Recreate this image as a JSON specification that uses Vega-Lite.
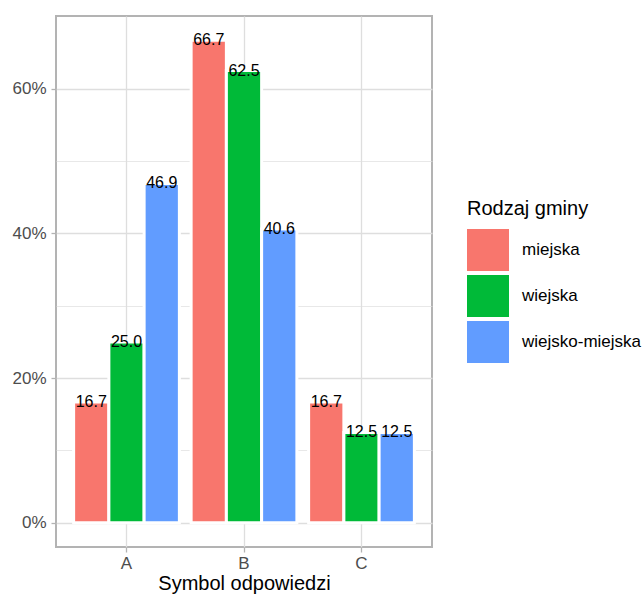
{
  "$schema": "https://vega.github.io/schema/vega-lite/v6.json",
  "width": 376,
  "height": 531,
  "autosize": {"type": "none"},
  "padding": {"left": 56, "top": 16, "right": 212, "bottom": 52},
  "background": "white",
  "data": {
    "values": [
      {"sym": "A", "typ": "miejska", "val": 16.7},
      {"sym": "A", "typ": "wiejska", "val": 25.0},
      {"sym": "A", "typ": "wiejsko-miejska", "val": 46.9},
      {"sym": "B", "typ": "miejska", "val": 66.7},
      {"sym": "B", "typ": "wiejska", "val": 62.5},
      {"sym": "B", "typ": "wiejsko-miejska", "val": 40.6},
      {"sym": "C", "typ": "miejska", "val": 16.7},
      {"sym": "C", "typ": "wiejska", "val": 12.5},
      {"sym": "C", "typ": "wiejsko-miejska", "val": 12.5}
    ]
  },
  "encoding": {
    "x": {
      "field": "sym",
      "type": "nominal",
      "scale": {"paddingInner": 0.1, "paddingOuter": 0.15},
      "axis": {
        "title": "Symbol odpowiedzi",
        "labelAngle": 0,
        "bandPosition": 0.5,
        "grid": true,
        "gridColor": "#DEDEDE",
        "gridWidth": 1.3,
        "domain": false,
        "tickColor": "#B3B3B3",
        "tickWidth": 1.3,
        "tickSize": 5,
        "labelFontSize": 17,
        "labelColor": "#4D4D4D",
        "labelPadding": 3,
        "titleFontSize": 20,
        "titleColor": "black",
        "titleFontWeight": "normal",
        "titlePadding": 2
      }
    },
    "xOffset": {
      "field": "typ",
      "type": "nominal",
      "scale": {"paddingInner": 0, "paddingOuter": 0}
    },
    "y": {
      "field": "val",
      "type": "quantitative",
      "scale": {"domain": [-3.335, 70.035], "nice": false, "zero": false},
      "axis": {
        "title": null,
        "values": [0, 10, 20, 30, 40, 50, 60],
        "labelExpr": "datum.value % 20 == 0 ? datum.value + '%' : ''",
        "grid": true,
        "gridColor": "#DEDEDE",
        "gridWidth": {"condition": {"test": "datum.value % 20 == 0", "value": 1.3}, "value": 0.7},
        "tickOpacity": {"condition": {"test": "datum.value % 20 == 0", "value": 1}, "value": 0},
        "domain": false,
        "tickColor": "#B3B3B3",
        "tickWidth": 1.3,
        "tickSize": 5,
        "labelFontSize": 17,
        "labelColor": "#4D4D4D",
        "labelPadding": 5
      }
    }
  },
  "layer": [
    {
      "mark": {"type": "bar", "stroke": "white", "strokeWidth": 3},
      "encoding": {
        "y2": {"datum": 0},
        "color": {
          "field": "typ",
          "type": "nominal",
          "scale": {
            "domain": ["miejska", "wiejska", "wiejsko-miejska"],
            "range": ["#F8766D", "#00BA38", "#619CFF"]
          },
          "legend": {
            "title": "Rodzaj gminy",
            "orient": "none",
            "legendX": 411,
            "legendY": 183,
            "padding": 0,
            "titleFontSize": 20,
            "titleColor": "black",
            "titleFontWeight": "normal",
            "titlePadding": 10,
            "labelFontSize": 17,
            "labelColor": "black",
            "labelOffset": 13,
            "symbolType": "square",
            "symbolSize": 1764,
            "symbolStrokeWidth": 0,
            "symbolOpacity": 1,
            "rowPadding": 4
          }
        }
      }
    },
    {
      "mark": {"type": "text", "baseline": "middle", "align": "center", "fontSize": 16, "color": "black"},
      "encoding": {
        "text": {"field": "val", "type": "quantitative", "format": ".1f"}
      }
    }
  ],
  "config": {
    "font": "Liberation Sans",
    "view": {"stroke": "#B3B3B3", "strokeWidth": 2}
  }
}
